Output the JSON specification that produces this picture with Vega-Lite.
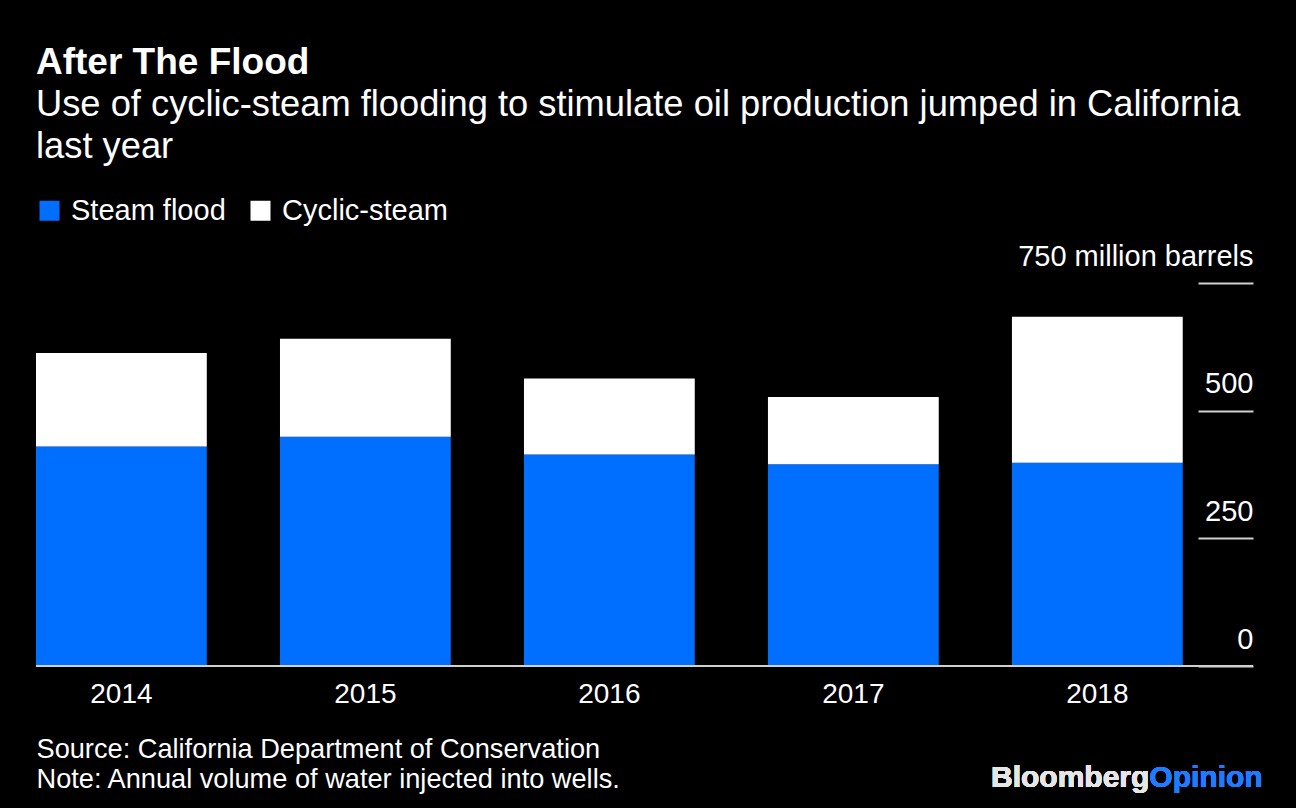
{
  "$schema": "https://vega.github.io/schema/vega-lite/v6.json",
  "autosize": {"type": "none"},
  "width": 1217,
  "height": 383,
  "padding": {"left": 36, "top": 283, "right": 43, "bottom": 142},
  "background": "#000000",
  "config": {
    "view": {"stroke": null},
    "font": "Liberation Sans",
    "text": {"font": "Liberation Sans"}
  },
  "title": {
    "text": "After The Flood",
    "subtitle": ["Use of cyclic-steam flooding to stimulate oil production jumped in California", "last year"],
    "anchor": "start",
    "frame": "group",
    "orient": "top",
    "font": "Liberation Sans",
    "fontSize": 37,
    "fontWeight": "bold",
    "color": "#ffffff",
    "subtitleFont": "Liberation Sans",
    "subtitleFontSize": 36.3,
    "subtitleColor": "#ffffff",
    "subtitleLineHeight": 42,
    "subtitlePadding": 5,
    "offset": 30,
    "limit": 1260
  },
  "data": {
    "values": [
      {"year": "2014", "type": "Steam flood", "value": 430},
      {"year": "2014", "type": "Cyclic-steam", "value": 183},
      {"year": "2015", "type": "Steam flood", "value": 449},
      {"year": "2015", "type": "Cyclic-steam", "value": 192},
      {"year": "2016", "type": "Steam flood", "value": 414},
      {"year": "2016", "type": "Cyclic-steam", "value": 149},
      {"year": "2017", "type": "Steam flood", "value": 395},
      {"year": "2017", "type": "Cyclic-steam", "value": 132},
      {"year": "2018", "type": "Steam flood", "value": 398},
      {"year": "2018", "type": "Cyclic-steam", "value": 286}
    ]
  },
  "layer": [
    {
      "mark": {"type": "bar"},
      "encoding": {
        "x": {
          "field": "year",
          "type": "nominal",
          "scale": {"paddingInner": 0.3, "paddingOuter": 0.144, "align": 0, "round": false},
          "axis": {
            "domain": false,
            "ticks": false,
            "labelAngle": 0,
            "labelFontSize": 28,
            "labelColor": "#ffffff",
            "labelFont": "Liberation Sans",
            "labelPadding": 14,
            "title": ["Source: California Department of Conservation", "Note: Annual volume of water injected into wells."],
            "titleFont": "Liberation Sans",
            "titleFontSize": 27.2,
            "titleFontWeight": "normal",
            "titleColor": "#ffffff",
            "titleAnchor": "start",
            "titleAlign": "left",
            "titleBaseline": "alphabetic",
            "titleLineHeight": 30,
            "titleX": 0,
            "titleY": 91,
            "titleLimit": 1000
          }
        },
        "y": {
          "field": "value",
          "type": "quantitative",
          "stack": "zero",
          "scale": {"domain": [0, 750], "nice": false},
          "axis": {
            "orient": "right",
            "offset": -55,
            "values": [0, 250, 500, 750],
            "grid": false,
            "domain": false,
            "ticks": true,
            "tickSize": 55,
            "tickWidth": 2,
            "tickColor": "#d0d0d0",
            "labelAlign": "right",
            "labelBaseline": "alphabetic",
            "labelPadding": 0,
            "labelOffset": -18,
            "labelFontSize": 29,
            "labelFont": "Liberation Sans",
            "labelColor": "#ffffff",
            "labelLimit": 500,
            "labelExpr": "datum.value == 750 ? '750 million barrels' : datum.label",
            "title": null
          }
        },
        "color": {
          "field": "type",
          "type": "nominal",
          "scale": {"domain": ["Steam flood", "Cyclic-steam"], "range": ["#006fff", "#ffffff"]},
          "legend": {
            "title": null,
            "orient": "none",
            "legendX": -1,
            "legendY": -87,
            "padding": 0,
            "direction": "horizontal",
            "symbolType": "square",
            "symbolSize": 400,
            "symbolStrokeWidth": 0,
            "symbolOpacity": 1,
            "labelFontSize": 29,
            "labelFont": "Liberation Sans",
            "labelColor": "#ffffff",
            "labelLimit": 400,
            "labelOffset": 7,
            "columnPadding": 20
          }
        },
        "order": {"field": "type", "sort": "descending"}
      }
    },
    {
      "mark": {"type": "rule", "color": "#d0d0d0", "strokeWidth": 2},
      "encoding": {"y": {"datum": 0}}
    },
    {
      "mark": {"type": "text", "text": "Bloomberg", "align": "right", "baseline": "middle", "dx": 52, "font": "Liberation Sans", "fontSize": 30, "fontWeight": "bold", "color": "#e6e6e6", "letterSpacing": -0.5},
      "encoding": {"x": {"datum": "2018"}, "y": {"datum": -219}}
    },
    {
      "mark": {"type": "text", "text": "Opinion", "align": "left", "baseline": "middle", "dx": 52, "font": "Liberation Sans", "fontSize": 30, "fontWeight": "bold", "color": "#1f7bff", "letterSpacing": -0.5},
      "encoding": {"x": {"datum": "2018"}, "y": {"datum": -219}}
    }
  ]
}
